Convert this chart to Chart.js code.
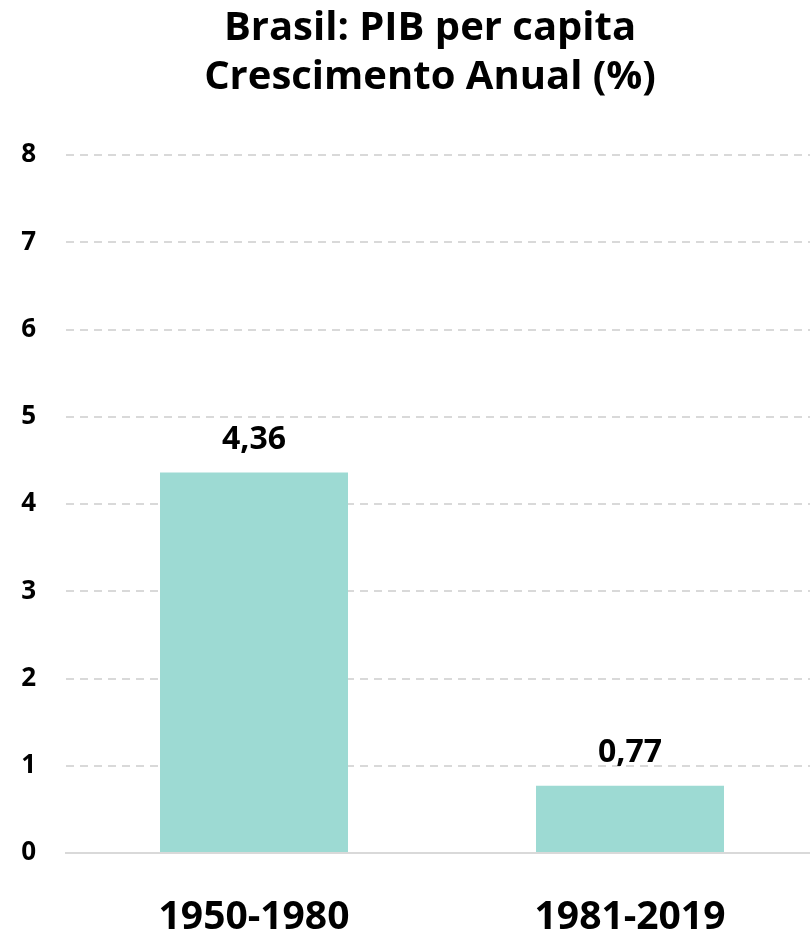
<!DOCTYPE html>
<html>
<head>
<meta charset="utf-8">
<script src="https://cdn.jsdelivr.net/npm/chart.js@4"></script>
<style>
  html, body { margin: 0; padding: 0; background: #fff; overflow: hidden; }
  #caixa { width: 818px; height: 934px; }
</style>
</head>
<body>
<div id="caixa"><canvas id="grafico"></canvas></div>
<script>
const periodos = ['1950-1980', '1981-2019'];
const crescimento = [4.36, 0.77];
const titulo = ['Brasil: PIB per capita', 'Crescimento Anual (%)'];
const FONTE = '"Open Sans", Lato, sans-serif';

// título desenhado à mão (centro levemente à esquerda da área do gráfico)
const tituloPlugin = {
    id: 'tituloPlugin',
    afterDraw(chart) {
        const { ctx, chartArea } = chart;
        const cx = (chartArea.left + chartArea.right) / 2 - 12;
        ctx.save();
        ctx.fillStyle = '#000';
        ctx.font = `bold 40px ${FONTE}`;
        ctx.textAlign = 'center';
        ctx.textBaseline = 'alphabetic';
        ctx.fillText(titulo[0], cx, 40);
        ctx.fillText(titulo[1], cx, 89);
        ctx.restore();
    }
};

// rótulos de valor acima das barras
const rotulosPlugin = {
    id: 'rotulosPlugin',
    afterDatasetsDraw(chart) {
        const { ctx } = chart;
        const meta = chart.getDatasetMeta(0);
        ctx.save();
        ctx.fillStyle = '#000';
        ctx.font = `bold 32px ${FONTE}`;
        ctx.textAlign = 'center';
        ctx.textBaseline = 'alphabetic';
        meta.data.forEach((barra, i) => {
            const texto = crescimento[i].toFixed(2).replace('.', ',');
            ctx.fillText(texto, barra.x, barra.y - 24);
        });
        ctx.restore();
    }
};

new Chart(document.getElementById('grafico'), {
    type: 'bar',
    data: {
        labels: periodos,
        datasets: [{
            data: crescimento,
            backgroundColor: '#9DDAD3',
            borderWidth: 0,
            barPercentage: 0.5,
            categoryPercentage: 1
        }]
    },
    options: {
        responsive: true,
        maintainAspectRatio: false,
        animation: false,
        layout: { padding: { top: 155, right: 0, bottom: 0, left: 0 } },
        plugins: {
            legend: { display: false },
            title: { display: false },
            tooltip: { enabled: false }
        },
        scales: {
            x: {
                grid: { display: false },
                border: { display: true, color: '#d9d9d9', width: 2 },
                ticks: {
                    color: '#000',
                    padding: 33,
                    font: { family: FONTE, size: 39, weight: 'bold' }
                },
                afterFit(scale) { scale.height = 81; }
            },
            y: {
                min: 0,
                max: 8,
                ticks: {
                    stepSize: 1,
                    color: '#000',
                    padding: 30,
                    font: { family: FONTE, size: 26, weight: 'bold' }
                },
                grid: {
                    color: '#d9d9d9',
                    lineWidth: 2,
                    drawTicks: false
                },
                border: {
                    display: false,
                    dash: (ctx) => (ctx.tick && ctx.tick.value === 0 ? [] : [8, 6])
                },
                afterFit(scale) { scale.width = 66; }
            }
        }
    },
    plugins: [tituloPlugin, rotulosPlugin]
});
</script>
</body>
</html>
